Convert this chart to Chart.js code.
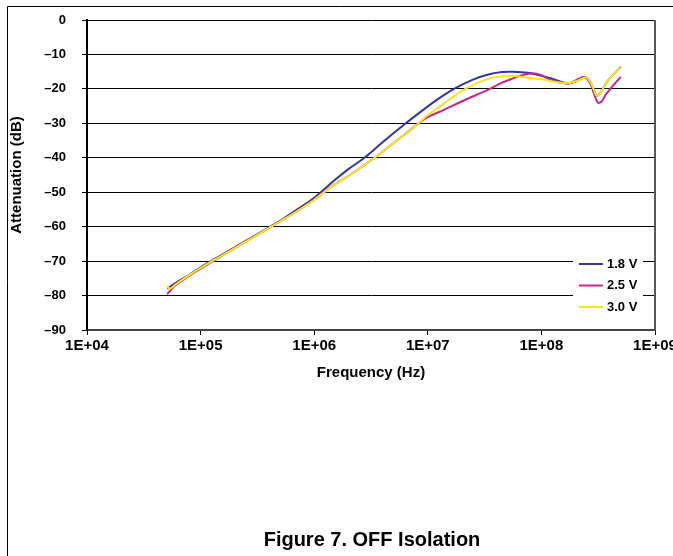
<!DOCTYPE html>
<html>
<head>
<meta charset="utf-8">
<title>OFF Isolation</title>
<script src="https://cdn.jsdelivr.net/npm/chart.js@4.4.1/dist/chart.umd.min.js"></script>
<style>
    html, body { margin: 0; padding: 0; background: #fff; }
    #wrap { width: 673px; height: 556px; }
</style>
</head>
<body>
<div id="wrap"><canvas id="isolationChart" width="673" height="556"></canvas></div>
<script>
// Frequency axis (Hz) and tick labels
const xTicks = [1e4, 1e5, 1e6, 1e7, 1e8, 1e9];
const xTickLabels = ["1E+04", "1E+05", "1E+06", "1E+07", "1E+08", "1E+09"];
const yTicks = [0, -10, -20, -30, -40, -50, -60, -70, -80, -90];
const yTickLabels = ["0", "\u201310", "\u201320", "\u201330", "\u201340", "\u201350", "\u201360", "\u201370", "\u201380", "\u201390"];

const seriesNames = ["1.8 V", "2.5 V", "3.0 V"];
const seriesColors = ["#35359a", "#c4268e", "#f6e61c"];

// 1.8 V
const freq18 = [5.1e4, 6e4, 8e4, 1e5, 1.5e5, 2e5, 3e5, 5e5, 7e5, 1e6, 1.5e6, 2e6, 2.77e6, 4e6, 6.4e6, 8.7e6,
    1.2e7, 1.7e7, 2.5e7, 3.4e7, 4.5e7, 5.4e7, 7.6e7, 1e8, 1.21e8, 1.6e8, 1.75e8, 2.09e8, 2.46e8, 2.7e8,
    2.9e8, 3.05e8, 3.25e8, 3.5e8, 3.85e8, 4.4e8, 5e8];
const atten18 = [-78.0, -76.4, -73.9, -71.8, -68.4, -66.0, -62.6, -58.3, -55.1, -51.6, -46.6, -43.3, -40.0, -35.5, -30.0, -26.6,
    -23.2, -20.0, -17.3, -15.8, -15.1, -15.0, -15.3, -16.2, -16.9, -18.2, -18.4, -17.6, -16.6, -18.0,
    -20.3, -21.9, -21.5, -19.8, -17.6, -15.5, -13.6];

// 2.5 V
const freq25 = [5.07e4, 5.5e4, 6e4, 8e4, 1e5, 1.5e5, 2e5, 3e5, 5e5, 7e5, 1e6, 1.5e6, 2e6, 3.4e6, 5e6, 8.3e6,
    1e7, 1.4e7, 2.1e7, 3.37e7, 4.5e7, 5.4e7, 6.2e7, 8e7, 1e8, 1.21e8, 1.6e8, 1.8e8, 2.09e8, 2.4e8,
    2.7e8, 2.9e8, 3.14e8, 3.4e8, 3.7e8, 4.09e8, 5e8];
const atten25 = [-79.6, -78.3, -77.0, -74.2, -72.2, -68.7, -66.2, -62.8, -58.5, -55.6, -52.2, -47.8, -45.3, -40.0, -35.7, -30.0,
    -28.2, -26.0, -23.3, -20.3, -18.2, -17.2, -16.4, -15.5, -16.0, -17.5, -18.4, -18.3, -17.2, -16.6,
    -18.5, -21.3, -24.0, -23.6, -21.6, -19.8, -16.5];

// 3.0 V
const freq30 = [5.07e4, 5.4e4, 6e4, 8e4, 1e5, 1.5e5, 2e5, 3e5, 5e5, 7e5, 1e6, 1.5e6, 2e6, 3.4e6, 5e6, 8.3e6,
    1e7, 1.4e7, 1.95e7, 2.7e7, 3.4e7, 4.5e7, 6.2e7, 8e7, 1e8, 1.29e8, 1.58e8, 1.75e8, 2.09e8, 2.46e8,
    2.7e8, 2.9e8, 3.05e8, 3.25e8, 3.5e8, 3.85e8, 4.4e8, 5e8];
const atten30 = [-77.3, -78.0, -76.8, -74.0, -72.0, -68.6, -66.2, -62.8, -58.5, -55.6, -52.2, -47.8, -45.3, -40.0, -35.7, -30.0,
    -27.6, -24.2, -20.8, -18.4, -17.1, -16.3, -16.3, -16.9, -17.2, -17.9, -18.3, -18.3, -17.6, -16.7,
    -18.0, -20.3, -21.9, -21.5, -19.8, -17.6, -15.5, -13.8];

const fontFamily = "'Liberation Sans', Arial, sans-serif";

const toPoints = (xs, ys) => xs.map((x, i) => ({ x: x, y: ys[i] }));

// white page + outer frame
const framePlugin = {
    id: "frame",
    beforeDraw(chart) {
        const ctx = chart.ctx;
        ctx.save();
        ctx.fillStyle = "#fff";
        ctx.fillRect(0, 0, chart.width, chart.height);
        ctx.strokeStyle = "#000";
        ctx.lineWidth = 1;
        ctx.beginPath();
        ctx.moveTo(7.5, chart.height);
        ctx.lineTo(7.5, 6.5);
        ctx.lineTo(chart.width, 6.5);
        ctx.stroke();
        ctx.restore();
    },
    afterDraw(chart) {
        const ctx = chart.ctx;
        const area = chart.chartArea;
        ctx.save();
        // right edge of plot
        ctx.strokeStyle = "#555";
        ctx.lineWidth = 2;
        ctx.beginPath();
        ctx.moveTo(area.right, area.top);
        ctx.lineTo(area.right, area.bottom + 1);
        ctx.stroke();
        // figure caption
        ctx.fillStyle = "#000";
        ctx.font = "bold 20px " + fontFamily;
        ctx.textAlign = "center";
        ctx.textBaseline = "middle";
        ctx.fillText("Figure 7. OFF Isolation", (area.left + area.right) / 2 + 1, 540);
        ctx.restore();
    }
};

// legend sits inside the plot, bottom right
const legendPlugin = {
    id: "insideLegend",
    afterDatasetsDraw(chart) {
        const ctx = chart.ctx;
        const area = chart.chartArea;
        const x0 = area.right - 82;
        const top = area.bottom - 80;
        ctx.save();
        ctx.fillStyle = "#fff";
        ctx.fillRect(x0, top, 70, 68);
        ctx.font = "bold 13px " + fontFamily;
        ctx.textBaseline = "middle";
        seriesNames.forEach((name, i) => {
            const y = top + 14 + i * 21.5;
            ctx.strokeStyle = seriesColors[i];
            ctx.lineWidth = 2;
            ctx.beginPath();
            ctx.moveTo(x0 + 6, y);
            ctx.lineTo(x0 + 30, y);
            ctx.stroke();
            ctx.fillStyle = "#000";
            ctx.fillText(name, x0 + 34, y);
        });
        ctx.restore();
    }
};

const ctx = document.getElementById("isolationChart").getContext("2d");
new Chart(ctx, {
    type: "line",
    data: {
        datasets: [
            { label: seriesNames[0], data: toPoints(freq18, atten18), borderColor: seriesColors[0], order: 2 },
            { label: seriesNames[1], data: toPoints(freq25, atten25), borderColor: seriesColors[1], order: 1 },
            { label: seriesNames[2], data: toPoints(freq30, atten30), borderColor: seriesColors[2], order: 0 }
        ]
    },
    options: {
        responsive: false,
        animation: false,
        layout: { padding: { left: 0, top: 20, right: 18, bottom: 166 } },
        elements: {
            point: { radius: 0 },
            line: { borderWidth: 2, tension: 0.35, fill: false }
        },
        plugins: {
            legend: { display: false },
            tooltip: { enabled: false }
        },
        scales: {
            x: {
                type: "logarithmic",
                min: 1e4,
                max: 1e9,
                afterBuildTicks: scale => { scale.ticks = xTicks.map(v => ({ value: v })); },
                afterFit: scale => { scale.height = 60; scale.paddingLeft = 0; scale.paddingRight = 0; },
                ticks: {
                    autoSkip: false,
                    maxRotation: 0,
                    padding: 2,
                    color: "#000",
                    font: { family: fontFamily, size: 15, weight: "bold" },
                    callback: (value, index) => xTickLabels[index]
                },
                grid: { drawOnChartArea: false, drawTicks: true, tickLength: 5, color: "#000" },
                border: { display: true, color: "#444", width: 2 },
                title: {
                    display: true,
                    text: "Frequency (Hz)",
                    color: "#000",
                    font: { family: fontFamily, size: 15, weight: "bold" },
                    padding: { top: 8, bottom: 8 }
                }
            },
            y: {
                min: -90,
                max: 0,
                afterBuildTicks: scale => { scale.ticks = yTicks.slice().reverse().map(v => ({ value: v })); },
                afterFit: scale => { scale.width = 87; scale.paddingTop = 0; scale.paddingBottom = 0; },
                ticks: {
                    padding: 16,
                    color: "#000",
                    font: { family: fontFamily, size: 13, weight: "bold" },
                    callback: value => yTickLabels[yTicks.indexOf(value)]
                },
                grid: { color: "#000", lineWidth: 1, tickLength: 5 },
                border: { display: true, color: "#000", width: 2 },
                title: {
                    display: true,
                    text: "Attenuation (dB)",
                    color: "#000",
                    font: { family: fontFamily, size: 15, weight: "bold" },
                    padding: { top: 8, bottom: 8 }
                }
            }
        }
    },
    plugins: [framePlugin, legendPlugin]
});
</script>
</body>
</html>
